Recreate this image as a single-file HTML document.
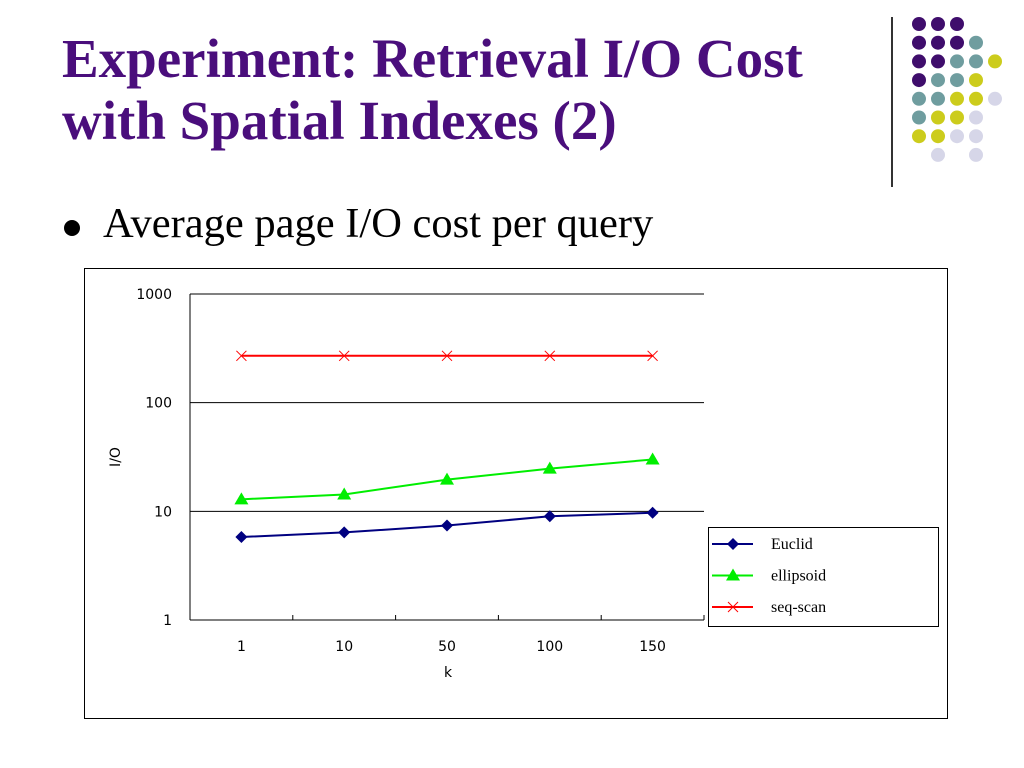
<!DOCTYPE html>
<html><head><meta charset="utf-8"><style>
body{margin:0;width:1024px;height:768px;background:#fff;position:relative;overflow:hidden;font-family:"Liberation Serif",serif}
#title{position:absolute;left:62px;top:28px;font-size:55px;font-weight:bold;color:#4a0e7c;line-height:62px;margin:0;white-space:nowrap}
#bullet{position:absolute;left:64px;top:220px;width:16px;height:16px;border-radius:50%;background:#000}
#bullet-text{position:absolute;left:103px;top:203px;font-size:42.5px;line-height:42px;color:#000;white-space:nowrap}
#vline{position:absolute;left:891px;top:17px;width:2px;height:170px;background:#333}
</style></head><body>
<h1 id="title">Experiment: Retrieval I/O Cost<br>with Spatial Indexes (2)</h1>
<div id="vline"></div>
<svg id="dots" width="1024" height="200" style="position:absolute;left:0;top:0"></svg>
<div id="bullet"></div>
<div id="bullet-text">Average page I/O cost per query</div>
<svg id="chart" width="1024" height="768" style="position:absolute;left:0;top:0"></svg>
<script>
const categories=["1","10","50","100","150"];
const euclid=[5.8,6.4,7.4,9.0,9.7];
const ellipsoid=[12.9,14.3,19.6,24.7,30];
const seqScan=[270,270,270,270,270];
const yTicks=[1,10,100,1000];
const seriesNames=["Euclid","ellipsoid","seq-scan"];

const NS="http://www.w3.org/2000/svg";
function mk(p,t,a){const e=document.createElementNS(NS,t);for(const k in a)e.setAttribute(k,a[k]);p.appendChild(e);return e;}
const dsv=document.getElementById('dots');
const C={P:"#3f0d6c",T:"#6f9d9f",Y:"#cccc1c",L:"#d6d6e8"};
const rows=["PPP","PPPT","PPTTY","PTTY","TTYYL","TYYL","YYLL"," L L"];
rows.forEach((r,i)=>{for(let j=0;j<r.length;j++){if(r[j]===" ")continue;
const c=mk(dsv,'circle',{cx:919+j*19,cy:24+i*18.7,r:7,fill:C[r[j]]});

}});

const svg=document.getElementById('chart');
const frame=mk(svg,'rect',{x:84.5,y:268.5,width:863,height:450,fill:"#fff",stroke:"#000","stroke-width":1});


const X0=190,X1=704,Y1=620,Y0=294;
const bw=(X1-X0)/categories.length;
const xp=i=>X0+bw*(i+0.5);
const yp=v=>Y1-(Math.log10(v)-0)/3*(Y1-Y0);
const sf='font-family:"DejaVu Sans",sans-serif;font-size:14px';
yTicks.forEach(t=>{
 if(t>1){const g=mk(svg,'line',{x1:X0,x2:X1,y1:yp(t),y2:yp(t),stroke:"#000","stroke-width":1});
 
 }
 const tx=mk(svg,'text',{x:172,y:yp(t)+5,"text-anchor":"end",style:sf});tx.textContent=t;
 
 
});
mk(svg,'line',{x1:X0,x2:X0,y1:Y0,y2:Y1,stroke:"#000"});
mk(svg,'line',{x1:X0,x2:X1,y1:Y1,y2:Y1,stroke:"#000"});
for(let i=1;i<=categories.length;i++)mk(svg,'line',{x1:X0+bw*i,x2:X0+bw*i,y1:Y1,y2:Y1-5,stroke:"#000"});
categories.forEach((c,i)=>{const t=mk(svg,'text',{x:xp(i),y:651,"text-anchor":"middle",style:sf});t.textContent=c;
 
 });
const xt=mk(svg,'text',{x:448,y:677,"text-anchor":"middle",style:sf});xt.textContent="k";


const yt=mk(svg,'text',{x:0,y:0,"text-anchor":"middle",style:sf,transform:"translate(120,457) rotate(-90)"});yt.textContent="I/O";



function marker(g,type,x,y,col){
 if(type==='d')mk(g,'polygon',{points:`${x},${y-6} ${x+6},${y} ${x},${y+6} ${x-6},${y}`,fill:col});
 else if(type==='t')mk(g,'polygon',{points:`${x},${y-7} ${x+7},${y+5} ${x-7},${y+5}`,fill:col});
 else{mk(g,'line',{x1:x-5,y1:y-5,x2:x+5,y2:y+5,stroke:col});mk(g,'line',{x1:x-5,y1:y+5,x2:x+5,y2:y-5,stroke:col});}
}
const series=[[euclid,"#000080",'d'],[ellipsoid,"#00ee00",'t'],[seqScan,"#ff0000",'x']];
series.forEach(([vals,col,m],si)=>{
 const g=mk(svg,'g',{});
 
 
 mk(g,'polyline',{points:vals.map((v,i)=>xp(i)+","+yp(v)).join(" "),fill:"none",stroke:col,"stroke-width":2});
 vals.forEach((v,i)=>marker(g,m,xp(i),yp(v),col));
});
const lg=mk(svg,'g',{});


mk(lg,'rect',{x:708.5,y:527.5,width:230,height:99,fill:"#fff",stroke:"#000"});
series.forEach(([vals,col,m],si)=>{
 const y=544+si*31.5;
 mk(lg,'line',{x1:712,x2:753,y1:y,y2:y,stroke:col,"stroke-width":2});
 marker(lg,m,733,y,col);
 const t=mk(lg,'text',{x:771,y:y+5,style:'font-family:"Liberation Serif",serif;font-size:16px'});t.textContent=seriesNames[si];
 
 
});
</script>
</body></html>
